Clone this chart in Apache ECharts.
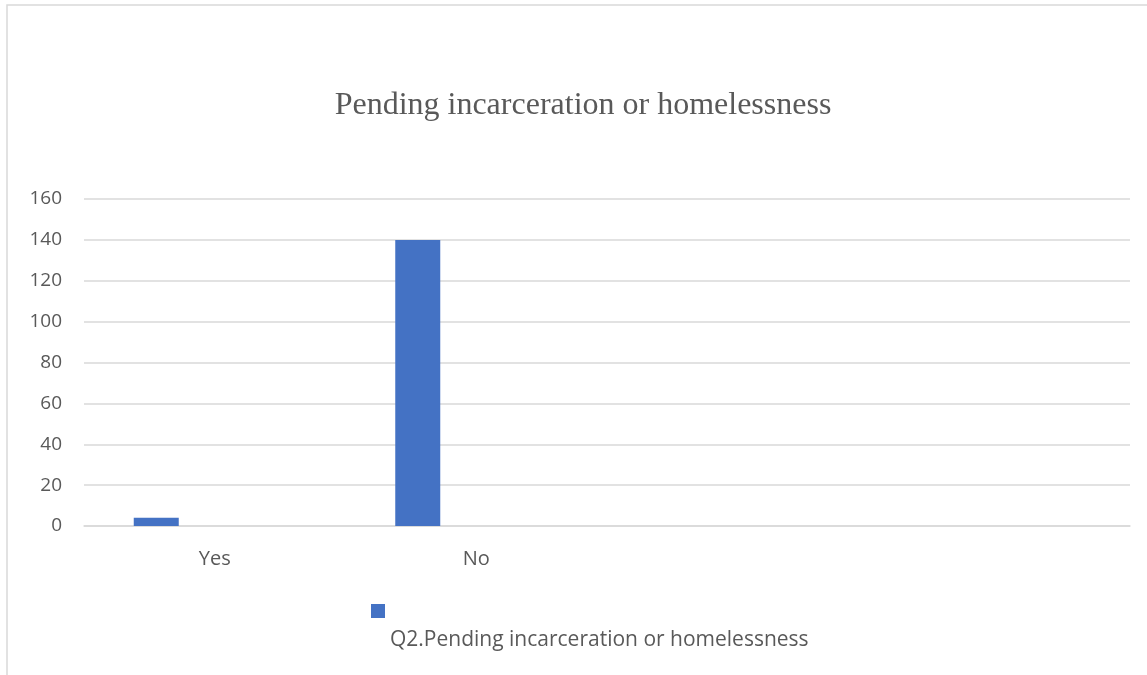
<!DOCTYPE html>
<html>
<head>
<meta charset="utf-8">
<script src="https://cdn.jsdelivr.net/npm/echarts@6/dist/echarts.min.js"></script>
<style>
  html, body { margin: 0; padding: 0; background: #fff; }
  #chart { width: 1147px; height: 675px; }
</style>
</head>
<body>
<div id="chart"></div>
<script>
// Survey answers for Q2 and their counts
const categories = ['Yes', 'No', '', ''];
const responseCounts = [4, 140, null, null];
const seriesName = 'Q2.Pending incarceration or homelessness';
const chartTitle = 'Pending incarceration or homelessness';
const yTicks = { min: 0, max: 160, interval: 20 };

const barColor = '#4472c4';
const textColor = '#595959';
const lineColor = '#d9d9d9';
const sansFont = '"Open Sans", sans-serif';

const chart = echarts.init(document.getElementById('chart'), null, { renderer: 'canvas' });

chart.setOption({
  backgroundColor: '#fff',
  animation: false,
  title: {
    text: chartTitle,
    left: 578,
    top: 85,
    textAlign: 'center',
    textStyle: {
      fontFamily: '"Liberation Serif", "Times New Roman", serif',
      fontWeight: 'normal',
      fontSize: 32,
      color: textColor
    }
  },
  grid: { left: 84, right: 17, top: 199, bottom: 149, containLabel: false },
  xAxis: {
    type: 'category',
    data: categories,
    axisLine: { show: true, lineStyle: { color: lineColor, width: 1.5 } },
    axisTick: { show: false },
    axisLabel: { color: textColor, fontFamily: sansFont, fontSize: 20, margin: 23 }
  },
  yAxis: {
    type: 'value',
    min: yTicks.min,
    max: yTicks.max,
    interval: yTicks.interval,
    axisLine: { show: false },
    axisTick: { show: false },
    axisLabel: { color: textColor, fontFamily: sansFont, fontSize: 19, margin: 22 },
    splitLine: { lineStyle: { color: lineColor, width: 1.5 } }
  },
  series: [
    {
      name: seriesName,
      type: 'bar',
      data: responseCounts,
      barWidth: 45,
      barGap: '160%',
      itemStyle: { color: barColor }
    },
    {
      // empty companion slot that keeps the bars in the left half of each category
      name: '',
      type: 'bar',
      data: categories.map(() => null),
      barWidth: 45,
      barGap: '160%'
    }
  ],
  graphic: [
    {
      // outer chart frame
      type: 'rect',
      shape: { x: 7, y: 5, width: 1160, height: 690 },
      style: { fill: 'none', stroke: lineColor, lineWidth: 1.5 },
      silent: true
    },
    {
      type: 'rect',
      shape: { x: 371, y: 604, width: 14, height: 14 },
      style: { fill: barColor }
    },
    {
      type: 'text',
      left: 390,
      top: 630,
      style: {
        text: seriesName,
        fill: textColor,
        font: '21px ' + sansFont
      }
    }
  ]
});
</script>
</body>
</html>
